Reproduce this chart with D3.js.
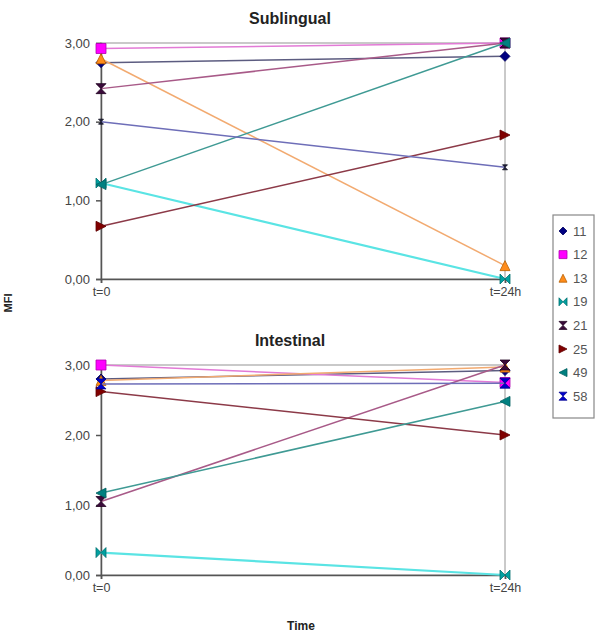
<!DOCTYPE html>
<html><head><meta charset="utf-8">
<script src="https://cdn.jsdelivr.net/npm/d3@7"></script>
<style>body{margin:0;background:#fff}svg{display:block}</style>
</head><body>
<svg id="c" width="600" height="643"></svg>
<script>
const series = ["11","12","13","19","21","25","49","58"];
const timeLabels = ["t=0","t=24h"];
const yTicks = [0,1,2,3];
const subT0  = [2.75, 2.93, 2.80, 1.22, 2.42, 0.67, 1.20, 2.00];
const subT24 = [2.83, 3.00, 0.17, 0.00, 3.00, 1.83, 3.00, 1.42];
const intT0  = [2.80, 3.00, 2.78, 0.32, 1.05, 2.62, 1.17, 2.73];
const intT24 = [2.92, 2.75, 2.97, 0.00, 3.00, 2.00, 2.48, 2.74];
const panels = [{title:"Sublingual", t0:subT0, t24:subT24}, {title:"Intestinal", t0:intT0, t24:intT24}];

const lineColors = ["#5c5c80","#e27ad6","#f2aa70","#5ae4e4","#a85a88","#8c3a48","#3f9a94","#6e6eb8"];
const markFill   = ["#000080","#ff00ff","#ff8c1a","#00a0a0","#3a0a3a","#800000","#008080","#0000cc"];
const markStroke = ["#000060","#b000b0","#b86000","#007070","#200020","#600000","#006060","#000090"];

function markerPath(i, s){
  const h=s/2;
  switch(i){
    case 0: return `M0,${-h}L${h},0L0,${h}L${-h},0Z`;
    case 1: return `M${-h},${-h}H${h}V${h}H${-h}Z`;
    case 2: return `M0,${-h}L${h},${h}L${-h},${h}Z`;
    case 3: return `M${-h},${-h}L0,0L${-h},${h}Z M${h},${-h}L0,0L${h},${h}Z`;
    case 4: case 7: return `M${-h},${-h}H${h}L0,0Z M${-h},${h}H${h}L0,0Z`;
    case 5: return `M${-h},${-h}L${h},0L${-h},${h}Z`;
    case 6: return `M${h},${-h}L${-h},0L${h},${h}Z`;
  }
}

const svg = d3.select("#c");
const font = "'Liberation Sans', Arial, sans-serif";
const x = d3.scalePoint().domain(timeLabels).range([101,505]);
const layouts = [{top:43,bottom:279,titleY:24},{top:365,bottom:575,titleY:346}];

panels.forEach((p,pi)=>{
  const L = layouts[pi];
  const y = d3.scaleLinear().domain([0,3]).range([L.bottom,L.top]);
  const g = svg.append("g");
  g.append("rect").attr("x",101).attr("y",L.top).attr("width",404).attr("height",L.bottom-L.top)
    .attr("fill","none").attr("stroke","#b8b8b8").attr("stroke-width",1.5);
  const ya = g.append("g").attr("transform","translate(101,0)")
    .call(d3.axisLeft(y).tickValues(yTicks).tickSize(5).tickPadding(6).tickFormat(d=>d3.format(".2f")(d).replace(".",",")));
  ya.select(".domain").attr("stroke","#555").attr("stroke-width",1.5);
  ya.selectAll(".tick line").attr("stroke","#555").attr("stroke-width",1.5);
  ya.selectAll("text").attr("font-family",font).attr("font-size",13).attr("fill","#444");
  const xa = g.append("g").attr("transform",`translate(0,${L.bottom})`)
    .call(d3.axisBottom(x).tickSize(4).tickPadding(4));
  xa.select(".domain").attr("stroke","#555").attr("stroke-width",1.5);
  xa.selectAll(".tick line").attr("stroke","#555").attr("stroke-width",1.5);
  xa.selectAll("text").attr("font-family",font).attr("font-size",12.5).attr("fill","#444");
  g.append("text").attr("x",290).attr("y",L.titleY).attr("text-anchor","middle")
    .attr("font-family",font).attr("font-weight","bold").attr("font-size",16).attr("fill","#222").text(p.title);
  series.forEach((s,i)=>{
    const vals=[p.t0[i],p.t24[i]];
    g.append("path").attr("d",d3.line().x((d,k)=>x(timeLabels[k])).y(d=>y(d))(vals))
      .attr("fill","none").attr("stroke",lineColors[i]).attr("stroke-width", i===3?2.2:1.5);
    vals.forEach((v,k)=>{
      const small = (i===7 && pi===0);
      const sz = small ? 5 : 10;
      g.append("path").attr("d",markerPath(i,sz))
        .attr("transform",`translate(${x(timeLabels[k])},${y(v)})`)
        .attr("fill",small?"#202040":markFill[i]).attr("stroke",small?"#101020":markStroke[i]).attr("stroke-width",0.8);
    });
  });
});

svg.append("text").attr("transform","translate(12,303) rotate(-90)").attr("text-anchor","middle")
  .attr("font-family",font).attr("font-weight","bold").attr("font-size",11).attr("fill","#222").text("MFI");
svg.append("text").attr("x",301).attr("y",630).attr("text-anchor","middle")
  .attr("font-family",font).attr("font-weight","bold").attr("font-size",12).attr("fill","#222").text("Time");

const lg = svg.append("g");
lg.append("rect").attr("x",553).attr("y",215).attr("width",41).attr("height",203)
  .attr("fill","#fff").attr("stroke","#888").attr("stroke-width",1.2);
series.forEach((s,i)=>{
  const ly = 231 + i*23.6;
  lg.append("path").attr("d",markerPath(i,8)).attr("transform",`translate(563,${ly})`)
    .attr("fill",markFill[i]).attr("stroke",markStroke[i]).attr("stroke-width",0.8);
  lg.append("text").attr("x",573).attr("y",ly+4.5).attr("font-family",font).attr("font-size",13)
    .attr("fill","#555").text(s);
});
</script>
</body></html>
